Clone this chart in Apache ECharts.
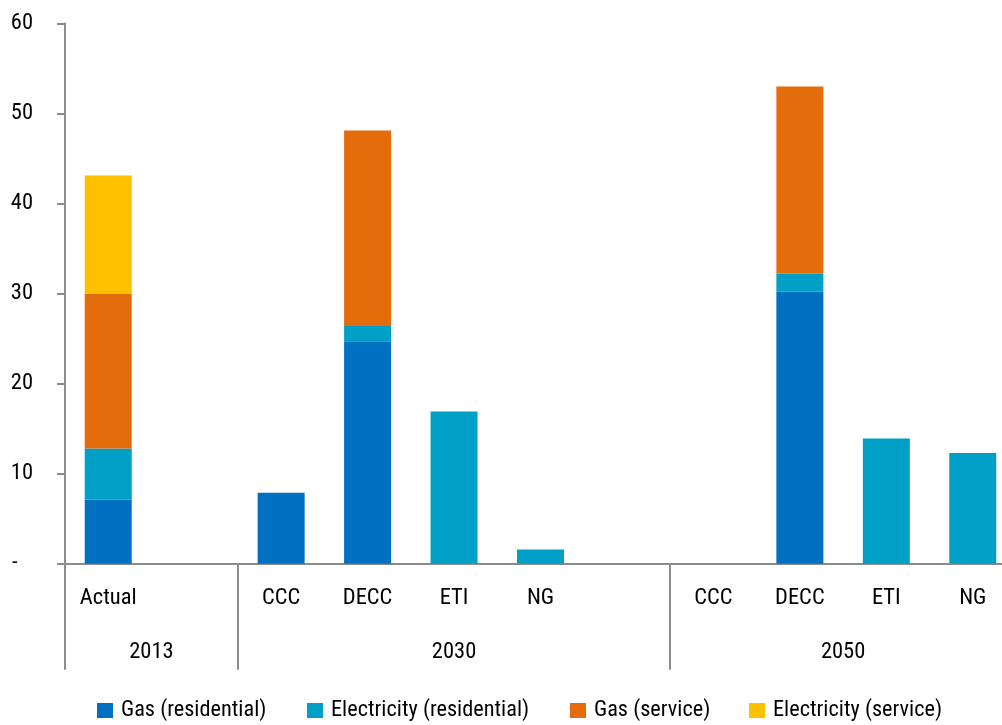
<!DOCTYPE html>
<html>
<head>
<meta charset="utf-8">
<script src="https://cdn.jsdelivr.net/npm/echarts@6/dist/echarts.min.js"></script>
<style>
  html, body { margin: 0; padding: 0; background: #ffffff; }
  #chart { width: 1002px; height: 725px; }
</style>
</head>
<body>
<div id="chart"></div>
<script>
// Scenario columns (blank slots keep the gaps between the year groups)
var categories = ['Actual', '', 'CCC', 'DECC', 'ETI', 'NG', '', 'CCC', 'DECC', 'ETI', 'NG'];

// Year groups: label and the category slots each spans [first, lastExclusive]
var groupLabels = ['2013', '2030', '2050'];
var groupSpans = [[0, 2], [2, 7], [7, 11]];

// Stacked demand components
var gasResidential  = [7.1, null, 7.9, 24.7, null, null, null, null, 30.2, null, null];
var elecResidential = [5.7, null, null, 1.7, 16.9, 1.6, null, null, 2.0, 13.9, 12.3];
var gasService      = [17.2, null, null, 21.7, null, null, null, null, 20.8, null, null];
var elecService     = [13.1, null, null, null, null, null, null, null, null, null, null];

var yTicks = { min: 0, max: 60, interval: 10 };

var FONT = '"Roboto Condensed", "Liberation Sans Narrow", "DejaVu Sans Condensed", sans-serif';
var AXIS_GREY = '#8c8c8c';
var LABEL_SIZE = 22.5;
var LEGEND_SIZE = 22.3;

// Group label axis: half-slot positions (boundaryGap off) so each label sits mid-span
var halfSlots = [];
for (var k = 0; k <= categories.length * 2; k++) halfSlots.push('');
groupSpans.forEach(function (span, i) {
  halfSlots[span[0] + span[1]] = groupLabels[i];
});

// Separator ticks at the boundaries of each group
var groupStarts = {};
groupSpans.forEach(function (span) { groupStarts[span[0]] = true; groupStarts[span[1]] = true; });

function series(name, data, color) {
  return {
    name: name,
    type: 'bar',
    stack: 'demand',
    data: data,
    barWidth: 47,
    itemStyle: { color: color },
    emphasis: { disabled: true }
  };
}

var chart = echarts.init(document.getElementById('chart'), null, { renderer: 'canvas' });

var legendNames = ['Gas (residential)', 'Electricity (residential)', 'Gas (service)', 'Electricity (service)'];
var legendLeft = [97, 307, 570, 749];

chart.setOption({
  animation: false,
  backgroundColor: '#ffffff',
  textStyle: { fontFamily: FONT },
  grid: { left: 65, top: 23.4, width: 951, height: 540.4, containLabel: false, outerBoundsMode: 'none' },
  legend: legendNames.map(function (n, i) {
    return {
      data: [n],
      left: legendLeft[i],
      top: 699.5,
      padding: 0,
      icon: 'rect',
      itemWidth: 16,
      itemHeight: 15,
      textStyle: { fontFamily: FONT, fontSize: LEGEND_SIZE, color: '#000000', padding: [0, 0, 0, 3] },
      selectedMode: false
    };
  }),
  xAxis: [
    {
      type: 'category',
      data: categories,
      position: 'bottom',
      axisLine: { show: true, lineStyle: { color: AXIS_GREY, width: 2 } },
      axisTick: {
        show: true,
        length: 106,
        interval: function (idx) { return !!groupStarts[idx]; },
        lineStyle: { color: AXIS_GREY, width: 2 }
      },
      axisLabel: { interval: 0, margin: 23, fontFamily: FONT, fontSize: LABEL_SIZE, color: '#000000' },
      splitLine: { show: false }
    },
    {
      type: 'category',
      data: halfSlots,
      boundaryGap: false,
      position: 'bottom',
      axisLine: { show: false },
      axisTick: { show: false },
      axisLabel: { interval: 0, margin: 77, fontFamily: FONT, fontSize: LABEL_SIZE, color: '#000000' },
      splitLine: { show: false }
    }
  ],
  yAxis: {
    type: 'value',
    min: yTicks.min,
    max: yTicks.max,
    interval: yTicks.interval,
    axisLine: { show: true, lineStyle: { color: AXIS_GREY, width: 2 } },
    axisTick: { show: true, length: 8, lineStyle: { color: AXIS_GREY, width: 2 } },
    splitLine: { show: false },
    axisLabel: {
      margin: 32,
      fontFamily: FONT,
      fontSize: LABEL_SIZE,
      color: '#000000',
      formatter: function (v) { return v === 0 ? '{dash|-}' : String(v); },
      rich: { dash: { width: 21, align: 'left', fontFamily: FONT, fontSize: LABEL_SIZE, color: '#000000' } }
    }
  },
  series: [
    series('Gas (residential)', gasResidential, '#0070C0'),
    series('Electricity (residential)', elecResidential, '#00A0C6'),
    series('Gas (service)', gasService, '#E46C0A'),
    series('Electricity (service)', elecService, '#FFC000')
  ]
});
</script>
</body>
</html>
